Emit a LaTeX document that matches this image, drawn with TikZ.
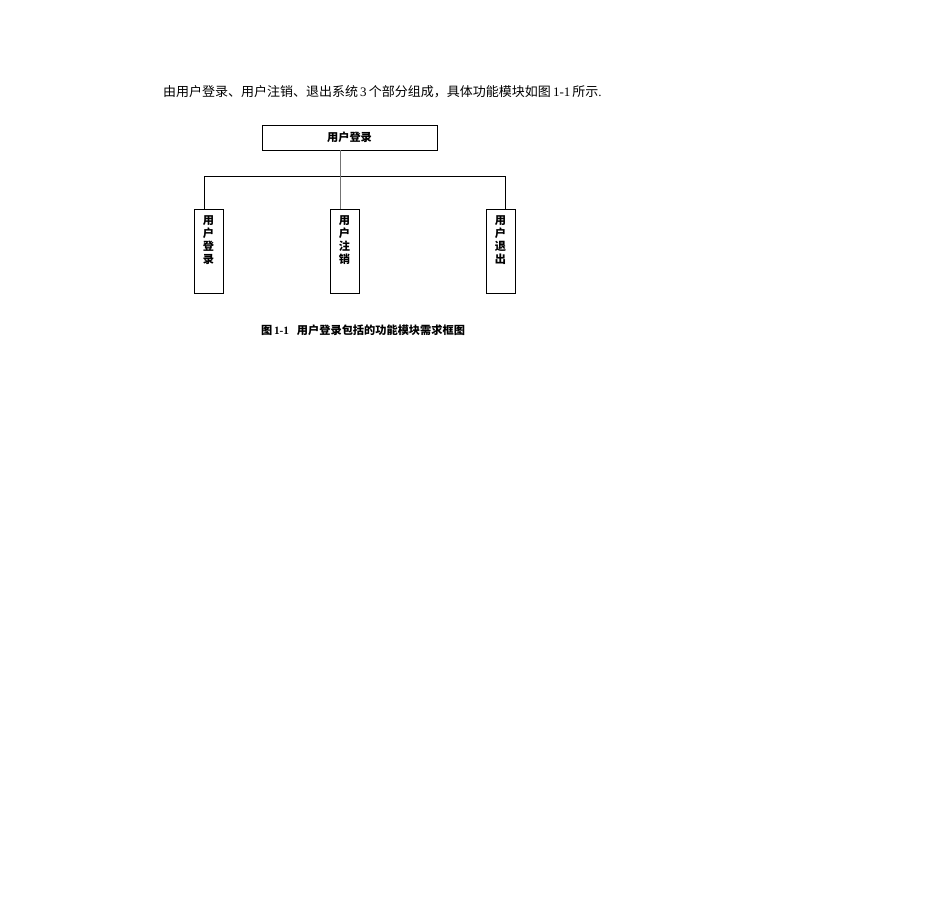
\documentclass[tikz,border=0pt]{standalone}
\usepackage{fontspec}
\setmainfont{Liberation Serif}
\newfontfamily\cjk{Noto Sans CJK SC}
\usetikzlibrary{positioning}

\tikzset{
  modbox/.style={draw=black,line width=0.6pt,inner sep=0pt,outer sep=0pt},
  modtext/.style={inner sep=0pt,outer sep=0pt,align=center,
    font=\cjk\bfseries\fontsize{8.4}{9.75}\selectfont},
  wire/.style={draw=black,line width=0.6pt}
}

\begin{document}
\begin{tikzpicture}[x=0.75pt,y=-0.75pt]
\definecolor{fillColor}{RGB}{255,255,255}
\definecolor{wireGray}{gray}{0.45}
\path[use as bounding box,fill=fillColor] (0,0) rectangle (950,911);

% intro line
\node[anchor=west,inner sep=0pt,outer sep=0pt,font=\fontsize{9.75}{12}\selectfont] (intro) at (163,92)
  {{\cjk 由用户登录、用户注销、退出系统}\,3\,{\cjk 个部分组成，具体功能模块如图}\,1-1\,{\cjk 所示}.};

% top module
\node[modbox,minimum width=131.25pt,minimum height=18.75pt] (top) at (349.5,137.5) {};
\node[modtext] (toptxt) at (top) {用户登录};

% sub modules
\node[modbox,minimum width=21.75pt,minimum height=63pt] (bl) at (208.5,251) {};
\node[modbox,minimum width=21.75pt,minimum height=63pt] (bm) at (344.5,251) {};
\node[modbox,minimum width=21.75pt,minimum height=63pt] (br) at (500.5,251) {};
\node[modtext,anchor=north] (bltxt) at ([yshift=-5pt]bl.north) {用\\户\\登\\录};
\node[modtext,anchor=north] (bmtxt) at ([yshift=-5pt]bm.north) {用\\户\\注\\销};
\node[modtext,anchor=north] (brtxt) at ([yshift=-5pt]br.north) {用\\户\\退\\出};

% connectors
\coordinate (jl) at (204,176);
\coordinate (jm) at (340,176);
\coordinate (jr) at (505,176);
\draw[wire] (jl) -- (jr);
\draw[wire] (jl) -- (jl |- bl.north);
\draw[wire] (jr) -- (jr |- br.north);
\draw[wire,draw=wireGray] (jm |- top.south) -- (jm |- bm.north);

% caption
\node[anchor=west,inner sep=0pt,outer sep=0pt,font=\bfseries\fontsize{8.4}{10}\selectfont] (cap) at (261,330)
  {{\cjk 图}\,1-1\hspace{6pt}{\cjk 用户登录包括的功能模块需求框图}};
\end{tikzpicture}
\end{document}
